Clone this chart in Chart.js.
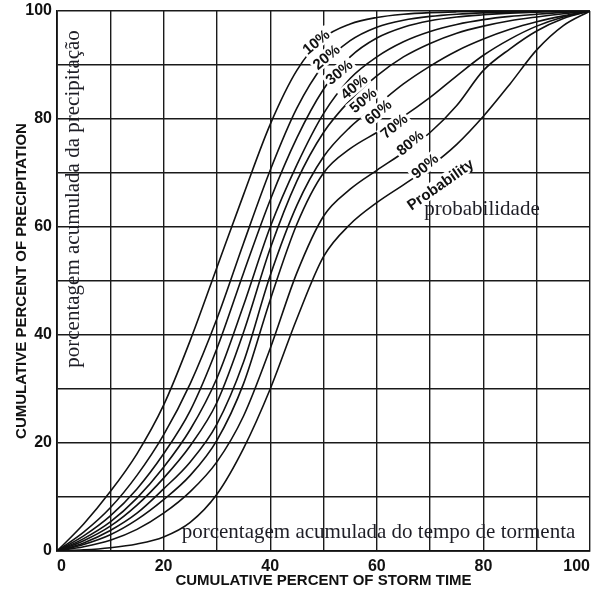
<!DOCTYPE html>
<html><head><meta charset="utf-8">
<script src="https://cdn.jsdelivr.net/npm/chart.js@4/dist/chart.umd.min.js"></script>
<style>html,body{margin:0;padding:0;background:#fff;overflow:hidden}#wrap{width:596px;height:594px}</style>
</head><body><div id="wrap"><canvas id="c" width="596" height="594"></canvas></div>
<script>
// Cumulative percent of storm time (x)
const stormTime = [0,5,10,15,20,25,30,35,40,45,50,55,60,65,70,75,80,85,90,95,100];
// Cumulative percent of precipitation for each probability curve
const p10 = [0,5,11,18,27,39,52.5,66,79,89,95,97.6,98.8,99.4,99.7,99.85,99.93,99.97,100,100,100];
const p20 = [0,3.5,8,14,21.5,31,43,57,70.5,82,90,94.5,97,98.3,99,99.4,99.65,99.8,99.9,100,100];
const p30 = [0,2.8,6.5,11.5,18,26,37.5,51.5,65,76.5,85.5,91.5,95,97,98.2,98.9,99.3,99.6,99.8,99.9,100];
const p40 = [0,2.3,5.4,9.8,15.5,22.5,32,45.5,60,71.5,81,87.5,91.5,94.3,96.2,97.5,98.4,99,99.4,99.75,100];
const p50 = [0,1.9,4.6,8.5,13.5,19.5,27.5,40.5,56,68.5,77.5,83.5,88,91.5,94,95.9,97.2,98.2,98.9,99.5,100];
const p60 = [0,1.5,3.8,7,11.5,16.5,23.5,35,51,64,73,78.5,82.5,86.5,89.8,92.6,94.8,96.6,98,99.1,100];
const p70 = [0,1.2,3,5.8,9.5,14,20.5,31,46.5,60.5,70,74.5,77.5,80.5,84,88,91.8,94.8,97.2,98.9,100];
const p80 = [0,0.8,2,4,7,11,16.5,25,37.5,51.5,62,67,70.5,73.8,77.5,82.5,89,93,96.3,98.6,100];
const p90 = [0,0.2,0.6,1.3,2.6,5.3,10.5,19,30,43,54.5,60.5,64.5,67.8,71.2,75.3,80.5,86.5,92.8,97.3,100];
const seriesValues = [p10,p20,p30,p40,p50,p60,p70,p80,p90];
const seriesNames = ['10%','20%','30%','40%','50%','60%','70%','80%','90%'];
const xTickLabels = [0,20,40,60,80,100];
const yTickLabels = [0,20,40,60,80,100];

// label placement (data coordinates) – layout only
const labelSpots = [[48.6,94.3],[50.5,91.5],[52.9,88.7],[55.7,86],[57.4,83.5],[60.2,81.3],[63.2,78.7],[66.2,75.6],[69,71.3]];

const SANS = '"Liberation Sans", Arial, Helvetica, sans-serif';
const SERIF = '"Liberation Serif", "Times New Roman", serif';

const labelPlugin = {
  id: 'curveLabels',
  afterDatasetsDraw(chart) {
    const {ctx, scales: {x, y}} = chart;
    ctx.save();
    ctx.textAlign = 'center';
    ctx.textBaseline = 'middle';
    const drawBoxed = (text, dx, dy, ang, font) => {
      const px = x.getPixelForValue(dx), py = y.getPixelForValue(dy);
      ctx.save();
      ctx.translate(px, py);
      ctx.rotate(ang * Math.PI / 180);
      ctx.font = font;
      const w = ctx.measureText(text).width;
      ctx.fillStyle = '#fff';
      ctx.fillRect(-w/2 - 2, -7.5, w + 4, 15);
      ctx.fillStyle = '#111';
      ctx.fillText(text, 0, 1);
      ctx.restore();
    };
    seriesNames.forEach((n, i) => drawBoxed(n, labelSpots[i][0], labelSpots[i][1], -40, 'bold 15px ' + SANS));
    drawBoxed('Probability', 71.9, 67.9, -35, 'bold 15px ' + SANS);

    ctx.fillStyle = '#1e1e26';
    ctx.font = '21px ' + SERIF;
    ctx.textAlign = 'left';
    ctx.fillText('probabilidade', x.getPixelForValue(68.9), y.getPixelForValue(63.2));
    ctx.fillText('porcentagem acumulada do tempo de tormenta', x.getPixelForValue(23.4), y.getPixelForValue(3.4));
    ctx.save();
    ctx.translate(x.getPixelForValue(3.0), y.getPixelForValue(65.2));
    ctx.rotate(-Math.PI / 2);
    ctx.textAlign = 'center';
    ctx.fillText('porcentagem acumulada da precipitação', 0, 0);
    ctx.restore();
    ctx.restore();
  }
};

const datasets = seriesValues.map((vals, i) => ({
  label: seriesNames[i],
  data: stormTime.map((t, k) => ({x: t, y: vals[k]})),
  borderColor: '#111',
  borderWidth: 1.6,
  pointRadius: 0,
  fill: false,
  cubicInterpolationMode: 'monotone'
}));

new Chart(document.getElementById('c'), {
  type: 'line',
  data: {datasets},
  options: {
    responsive: false,
    animation: false,
    devicePixelRatio: 1,
    layout: {padding: {top: 11, right: 6, left: 0, bottom: 0}},
    plugins: {legend: {display: false}, tooltip: {enabled: false}},
    scales: {
      x: {
        type: 'linear', min: 0, max: 100,
        ticks: {
          stepSize: 10, autoSkip: false, maxRotation: 0, align: 'inner', padding: 6,
          color: '#111', font: {family: SANS, size: 16, weight: 'bold'},
          callback: v => xTickLabels.includes(v) ? String(v) : ''
        },
        grid: {color: '#1a1a1a', lineWidth: 1.4, drawTicks: false},
        border: {display: true, color: '#111', width: 1.8},
        title: {display: true, text: 'CUMULATIVE PERCENT OF STORM TIME', color: '#111',
          font: {family: SANS, size: 15, weight: 'bold'}, padding: {top: 0, bottom: 4}},
        afterFit: s => { s.height = 43; s.paddingLeft = 0; s.paddingRight = 0; }
      },
      y: {
        type: 'linear', min: 0, max: 100,
        ticks: {
          stepSize: 10, autoSkip: false, padding: 5,
          color: '#111', font: {family: SANS, size: 16, weight: 'bold'},
          callback: v => yTickLabels.includes(v) ? String(v) : ''
        },
        grid: {color: '#1a1a1a', lineWidth: 1.4, drawTicks: false},
        border: {display: true, color: '#111', width: 1.8},
        title: {display: true, text: 'CUMULATIVE PERCENT OF PRECIPITATION', color: '#111',
          font: {family: SANS, size: 15, weight: 'bold'}, padding: {top: 13, bottom: 0}},
        afterFit: s => { s.width = 57; s.paddingTop = 0; s.paddingBottom = 0; }
      }
    }
  },
  plugins: [labelPlugin]
});
</script>
</body></html>
